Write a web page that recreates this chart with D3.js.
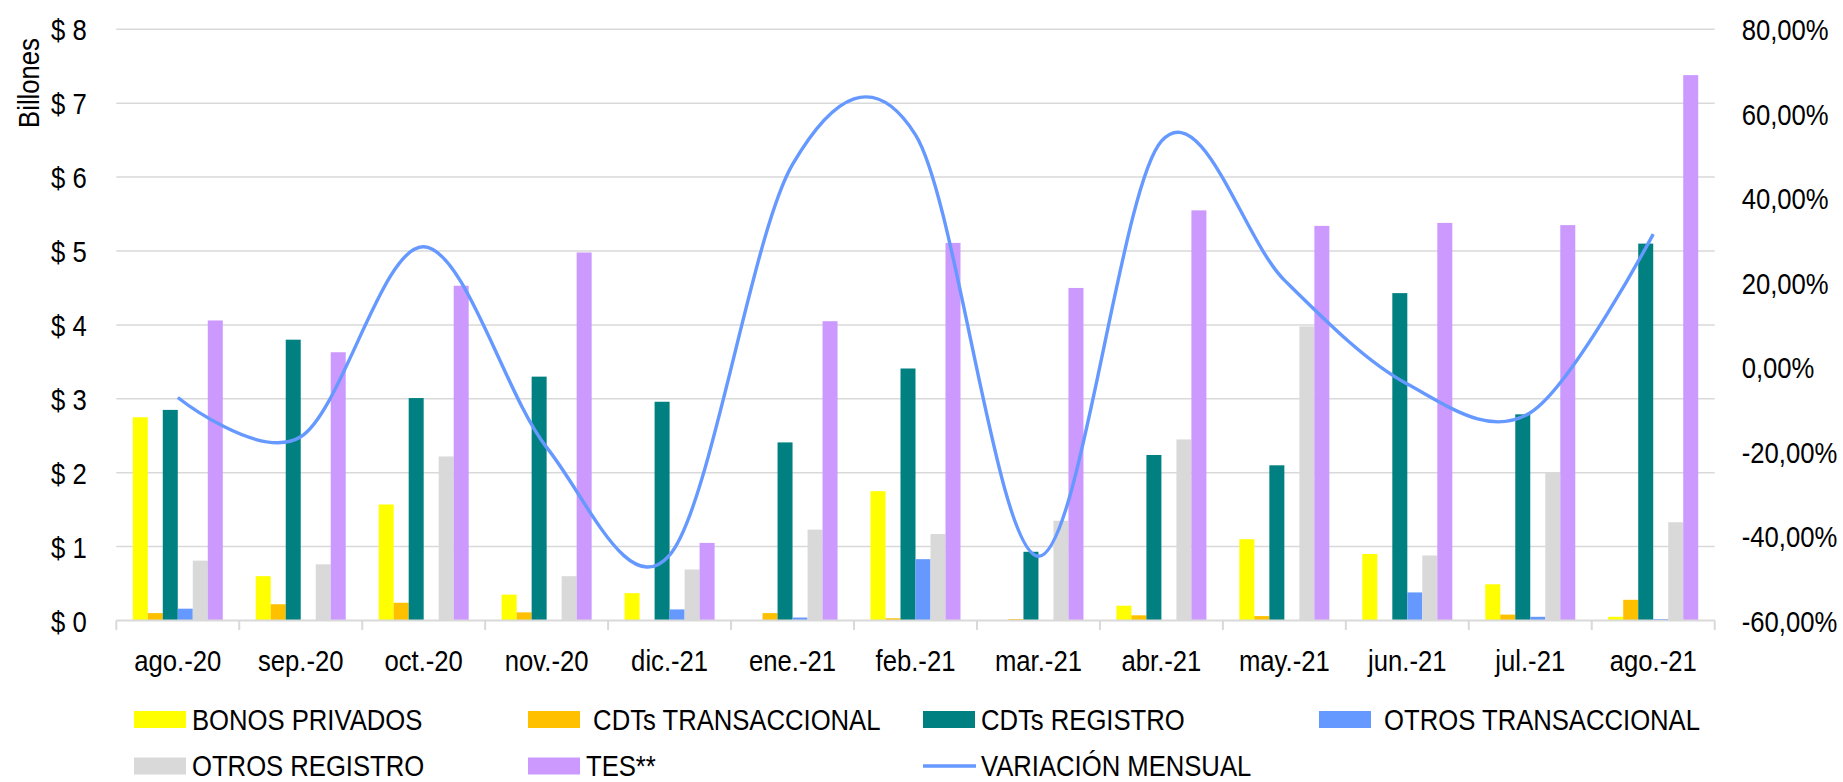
<!DOCTYPE html>
<html><head><meta charset="utf-8">
<script src="https://cdn.jsdelivr.net/npm/d3@7"></script>
<style>
body{margin:0;background:#fff}
svg text{font-family:"Liberation Sans",Arial,Helvetica,sans-serif;fill:#000;white-space:pre}
</style>
</head><body>
<svg id="c" width="1843" height="782"></svg>
<script>
// ---- data ----
const categories = ["ago.-20","sep.-20","oct.-20","nov.-20","dic.-21","ene.-21","feb.-21","mar.-21","abr.-21","may.-21","jun.-21","jul.-21","ago.-21"];
const bonosPrivados      = [2.75,0.60,1.57,0.35,0.37,0.00,1.75,0.00,0.20,1.10,0.90,0.49,0.05];
const cdtsTransaccional  = [0.10,0.22,0.24,0.11,0.00,0.10,0.03,0.02,0.07,0.06,0.00,0.08,0.28];
const cdtsRegistro       = [2.85,3.80,3.01,3.30,2.96,2.41,3.41,0.93,2.24,2.10,4.43,2.79,5.10];
const otrosTransaccional = [0.16,0.00,0.00,0.00,0.15,0.04,0.83,0.00,0.00,0.00,0.38,0.05,0.02];
const otrosRegistro      = [0.81,0.76,2.22,0.60,0.69,1.23,1.17,1.35,2.45,3.98,0.88,2.00,1.33];
const tes                = [4.06,3.63,4.53,4.98,1.05,4.05,5.11,4.50,5.55,5.34,5.38,5.35,7.38];
const variacionMensual   = [-0.072,-0.165,0.285,-0.19,-0.445,0.48,0.55,-0.448,0.535,0.206,-0.04,-0.108,0.315];
const seriesNames  = ["BONOS PRIVADOS"," CDTs TRANSACCIONAL","CDTs REGISTRO"," OTROS TRANSACCIONAL","OTROS REGISTRO","TES**"];
const seriesColors = ["#FFFF00","#FFC000","#008080","#6699FF","#D9D9D9","#CC99FF"];
const lineName  = "VARIACIÓN MENSUAL";
const lineColor = "#6699FF";
const leftTicks  = [0,1,2,3,4,5,6,7,8];
const rightTicks = [-0.6,-0.4,-0.2,0,0.2,0.4,0.6,0.8];
const yTitle = "Billones";

const barSeries = [bonosPrivados,cdtsTransaccional,cdtsRegistro,otrosTransaccional,otrosRegistro,tes];

// ---- layout ----
const svg = d3.select("#c");
const L = 116.3, R = 1714.7, T = 29.3, B = 620.5;
const FS = 29.5, SX = 0.87;

const x = d3.scaleBand().domain(categories).range([L,R]).paddingInner(0.268).paddingOuter(0.134);
const xs = d3.scaleBand().domain(d3.range(barSeries.length)).range([0,x.bandwidth()]).padding(0);
const yL = d3.scaleLinear().domain([0,8]).range([B,T]);
const yR = d3.scaleLinear().domain([-0.6,0.8]).range([B,T]);

// gridlines
svg.append("g").selectAll("line").data(leftTicks.slice(1)).join("line")
  .attr("x1",L).attr("x2",R).attr("y1",d=>yL(d)).attr("y2",d=>yL(d))
  .attr("stroke","#D9D9D9").attr("stroke-width",1.5);

// bars
const groups = svg.append("g").selectAll("g").data(categories).join("g")
  .attr("transform",c=>`translate(${x(c)},0)`);
groups.selectAll("rect").data((c,i)=>barSeries.map((s,k)=>({k,v:s[i]}))).join("rect")
  .attr("x",d=>xs(d.k)).attr("width",xs.bandwidth())
  .attr("y",d=>yL(d.v)).attr("height",d=>yL(0)-yL(d.v))
  .attr("fill",d=>seriesColors[d.k]);

// x axis line and boundary ticks
svg.append("line").attr("x1",L).attr("x2",R).attr("y1",B).attr("y2",B)
  .attr("stroke","#D9D9D9").attr("stroke-width",2);
const bounds = categories.map(c=>x(c)-x.step()*x.paddingOuter()).concat([R]);
svg.append("g").selectAll("line").data(bounds).join("line")
  .attr("x1",d=>d).attr("x2",d=>d).attr("y1",B).attr("y2",B+9.5)
  .attr("stroke","#D9D9D9").attr("stroke-width",2);

// line series
const line = d3.line().x((d,i)=>x(categories[i])+x.bandwidth()/2).y(d=>yR(d)).curve(d3.curveCardinal.tension(0));
svg.append("path").datum(variacionMensual).attr("d",line)
  .attr("fill","none").attr("stroke",lineColor).attr("stroke-width",3.4);

// axes
function styleText(sel){
  sel.attr("font-size",FS).attr("fill","#000");
}
const axL = svg.append("g").attr("transform",`translate(${L},0)`)
  .call(d3.axisLeft(yL).tickValues(leftTicks).tickSize(0).tickFormat(d=>"$ "+d));
axL.select(".domain").remove();
axL.selectAll("text").call(styleText).attr("x",-29.6/SX).attr("dy","0.36em")
  .attr("transform",`scale(${SX},1)`).attr("font-family",null);

const axR = svg.append("g").attr("transform",`translate(${R},0)`)
  .call(d3.axisRight(yR).tickValues(rightTicks).tickSize(0)
    .tickFormat(d=>(d*100).toFixed(2).replace(".",",")+"%"));
axR.select(".domain").remove();
axR.selectAll("text").call(styleText).attr("x",27/SX).attr("dy","0.36em")
  .attr("transform",`scale(${SX},1)`).attr("font-family",null);

const axB = svg.append("g").attr("transform",`translate(0,${B})`)
  .call(d3.axisBottom(x).tickSize(0));
axB.select(".domain").remove();
axB.selectAll("text").call(styleText).attr("y",50.7).attr("dy",0)
  .attr("transform",`scale(${SX},1)`).attr("font-family",null);

// y title
svg.append("g").attr("transform","translate(39,83) rotate(-90) scale(0.87,1)")
  .append("text").attr("text-anchor","middle").attr("font-size",FS).text(yTitle);

// legend
const colX = [134,528,923,1319];
const rowY = [719.5,766];
const legendItems = seriesNames.map((n,k)=>({name:n,color:seriesColors[k],type:"rect"}))
  .concat([{name:lineName,color:lineColor,type:"line"}]);
const lg = svg.append("g").selectAll("g").data(legendItems).join("g")
  .attr("transform",(d,i)=>`translate(${colX[i%4]},${rowY[Math.floor(i/4)]})`);
lg.filter(d=>d.type==="rect").append("rect")
  .attr("x",0).attr("y",-8.5).attr("width",52).attr("height",17).attr("fill",d=>d.color);
lg.filter(d=>d.type==="line").append("line")
  .attr("x1",0).attr("x2",53).attr("y1",0).attr("y2",0).attr("stroke",d=>d.color).attr("stroke-width",3.4);
lg.append("g").attr("transform",`translate(58,10) scale(${SX},1)`)
  .append("text").attr("font-size",FS).text(d=>d.name);
</script>
</body></html>
